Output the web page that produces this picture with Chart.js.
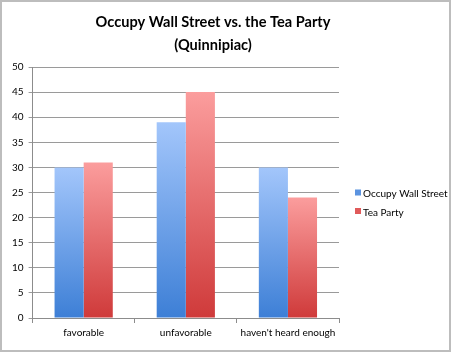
<!DOCTYPE html>
<html>
<head>
<meta charset="utf-8">
<script src="https://cdn.jsdelivr.net/npm/chart.js@4.4.0/dist/chart.umd.min.js"></script>
<style>
  html, body { margin: 0; padding: 0; background: #fff; }
  #wrap {
    width: 451px; height: 352px; box-sizing: border-box;
    border: 2px solid #bdbdbd; background: #fff;
  }
</style>
</head>
<body>
<div id="wrap"><canvas id="chart" width="447" height="348"></canvas></div>
<script>
// data
const categories = ['favorable', 'unfavorable', "haven't heard enough"];
const occupyValues = [30, 39, 30];
const teaPartyValues = [31, 45, 24];
const seriesNames = ['Occupy Wall Street', 'Tea Party'];
const titleLines = ['Occupy Wall Street vs. the Tea Party', '(Quinnipiac)'];
const legendColors = ['#5b93e0', '#e05a5a'];

// per-bar vertical gradient: light at top, dark at bottom
function barGradient(top, bottom) {
  return (context) => {
    const chart = context.chart;
    const { ctx, chartArea, scales } = chart;
    if (!chartArea || context.type !== 'data') return bottom;
    const y0 = scales.y.getPixelForValue(0);
    const y1 = scales.y.getPixelForValue(context.raw);
    if (!isFinite(y0) || !isFinite(y1) || y0 === y1) return bottom;
    const g = ctx.createLinearGradient(0, y1, 0, y0);
    g.addColorStop(0, top);
    g.addColorStop(1, bottom);
    return g;
  };
}

const font = "Lato, 'DejaVu Sans', sans-serif";

// title sits a bit right of the plot centre, like the original
const topTitle = {
  id: 'topTitle',
  afterDraw(chart) {
    const ctx = chart.ctx;
    ctx.save();
    let size = 16;
    ctx.font = 'bold ' + size + 'px ' + font;
    // shrink to match the narrow original face
    size = size * 235 / ctx.measureText(titleLines[0]).width;
    ctx.font = 'bold ' + size.toFixed(2) + 'px ' + font;
    ctx.fillStyle = '#000';
    ctx.textAlign = 'center';
    ctx.textBaseline = 'middle';
    ctx.fillText(titleLines[0], 211, 20);
    ctx.fillText(titleLines[1], 211, 43);
    ctx.restore();
  },
};

// simple legend drawn to the right of the plot area
const sideLegend = {
  id: 'sideLegend',
  afterDraw(chart) {
    const { ctx, chartArea } = chart;
    const x = chartArea.right + 16;
    let y = 190.5;
    ctx.save();
    ctx.font = '10px ' + font;
    ctx.textBaseline = 'middle';
    chart.data.datasets.forEach((ds, i) => {
      ctx.fillStyle = legendColors[i];
      ctx.fillRect(x, y - 3, 6, 6);
      ctx.fillStyle = '#000';
      ctx.fillText(ds.label, x + 8, y + 1.5);
      y += 18.5;
    });
    ctx.restore();
  },
};

new Chart(document.getElementById('chart'), {
  type: 'bar',
  data: {
    labels: categories,
    datasets: [
      {
        label: seriesNames[0],
        data: occupyValues,
        backgroundColor: barGradient('#a3c6fb', '#3d7fd6'),
        borderWidth: 0,
      },
      {
        label: seriesNames[1],
        data: teaPartyValues,
        backgroundColor: barGradient('#fb9d9d', '#cf3a3a'),
        borderWidth: 0,
      },
    ],
  },
  plugins: [topTitle, sideLegend],
  options: {
    responsive: false,
    animation: false,
    layout: { padding: { left: 5, right: 110, top: 65, bottom: 7 } },
    datasets: {
      bar: { categoryPercentage: 0.57, barPercentage: 1.0 },
    },
    plugins: {
      title: { display: false },
      legend: { display: false },
      tooltip: { enabled: false },
    },
    scales: {
      x: {
        grid: {
          offset: true,
          drawOnChartArea: false,
          drawTicks: true,
          tickLength: 5,
          color: '#8c8c8c',
        },
        border: { color: '#8c8c8c' },
        ticks: {
          color: '#000', font: { family: font, size: 10 }, padding: 4,
          maxRotation: 0, minRotation: 0, autoSkip: false,
        },
      },
      y: {
        min: 0,
        max: 50,
        ticks: { stepSize: 5, color: '#000', font: { family: font, size: 10 }, padding: 5 },
        grid: { color: '#9a9a9a', tickLength: 4 },
        border: { color: '#8c8c8c' },
      },
    },
  },
});
</script>
</body>
</html>
